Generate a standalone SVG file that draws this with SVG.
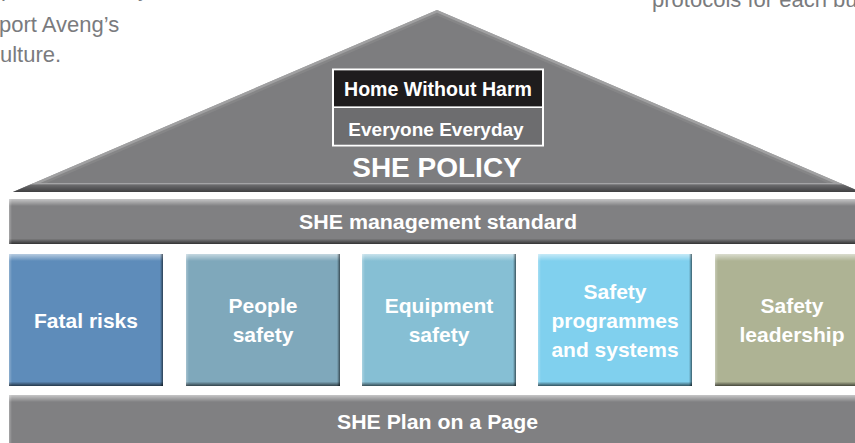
<svg xmlns="http://www.w3.org/2000/svg" width="855" height="443" viewBox="0 0 855 443">
  <defs>
    <style>
      .body { font-family: "Liberation Sans", Arial, sans-serif; font-size: 22px; fill: #7a7b7e; }
      .lbl { font-family: "Liberation Sans", Arial, sans-serif; font-weight: bold; fill: #ffffff; text-anchor: middle; }
      .box { font-size: 21px; }
      .bar { font-size: 20px; }
      .gbar { fill: #808082; }
    </style>
    <linearGradient id="hiTop" x1="0" y1="0" x2="0" y2="1">
      <stop offset="0" stop-color="#ffffff" stop-opacity="0.55"/>
      <stop offset="1" stop-color="#ffffff" stop-opacity="0"/>
    </linearGradient>
    <linearGradient id="shBot" x1="0" y1="0" x2="0" y2="1">
      <stop offset="0" stop-color="#000000" stop-opacity="0.05"/>
      <stop offset="1" stop-color="#000000" stop-opacity="0.6"/>
    </linearGradient>
    <linearGradient id="shRight" x1="0" y1="0" x2="1" y2="0">
      <stop offset="0" stop-color="#000000" stop-opacity="0"/>
      <stop offset="1" stop-color="#000000" stop-opacity="0.55"/>
    </linearGradient>
    <linearGradient id="hiLeft" x1="0" y1="0" x2="1" y2="0">
      <stop offset="0" stop-color="#ffffff" stop-opacity="0.3"/>
      <stop offset="1" stop-color="#ffffff" stop-opacity="0"/>
    </linearGradient>
    <linearGradient id="roofBase" x1="0" y1="0" x2="0" y2="1">
      <stop offset="0" stop-color="#6e6e70"/>
      <stop offset="1" stop-color="#3c3c3e"/>
    </linearGradient>
    <clipPath id="roofClip">
      <polygon points="437,10 13,192 861,192"/>
    </clipPath>
  </defs>

  <g id="page-text">
    <text class="body" x="1" y="-4">p</text>
    <text class="body" x="138" y="-4">y</text>
    <text class="body" x="-1" y="32">port Aveng’s</text>
    <text class="body" x="0" y="62">ulture.</text>
    <text class="body" x="652" y="7" font-size="21">protocols for each bu</text>
  </g>

  <g id="roof">
    <polygon points="437,10 13,192 861,192" fill="#7d7d7f"/>
    <g clip-path="url(#roofClip)">
      <polyline points="13,192 437,10 861,192" fill="none" stroke="#b2b2b4" stroke-width="5" stroke-opacity="0.7"/>
      <polyline points="13,192 437,10 861,192" fill="none" stroke="#9a9a9c" stroke-width="10" stroke-opacity="0.3"/>
      <rect x="0" y="183" width="861" height="1.5" fill="#a4a4a6"/>
      <rect x="0" y="184.5" width="861" height="8" fill="url(#roofBase)"/>
    </g>
    <rect x="333" y="69.5" width="210" height="76" fill="none" stroke="#ffffff" stroke-width="2"/>
    <rect x="334" y="70.5" width="208" height="36" fill="#1e1c1d"/>
    <rect x="334" y="106.5" width="208" height="1.5" fill="#ffffff"/>
    <rect x="334" y="108" width="208" height="36.5" fill="#6d6d6f"/>
    <text class="lbl" x="438" y="96" font-size="19.5" textLength="188" lengthAdjust="spacingAndGlyphs">Home Without Harm</text>
    <text class="lbl" x="436" y="136" font-size="19">Everyone Everyday</text>
    <text class="lbl" x="437" y="177" font-size="28">SHE POLICY</text>
  </g>

  <g id="connectors"></g>

  <g id="management-standard">
    <rect class="gbar" x="9" y="199" width="846" height="45"/>
    <rect x="9" y="199" width="846" height="7" fill="url(#hiTop)"/>
    <rect x="9" y="239" width="846" height="5" fill="url(#shBot)"/>
    <rect x="9" y="199" width="3" height="45" fill="url(#hiLeft)"/>
    <text class="lbl bar" x="438" y="229" textLength="278" lengthAdjust="spacingAndGlyphs">SHE management standard</text>
  </g>

  <g id="fatal-risks">
    <rect x="9" y="254" width="154" height="132" fill="#5e8cba"/>
    <rect x="9" y="254" width="154" height="7" fill="url(#hiTop)"/>
    <rect x="9" y="254" width="3" height="132" fill="url(#hiLeft)"/>
    <rect x="160" y="254" width="3" height="132" fill="url(#shRight)"/>
    <rect x="9" y="382" width="154" height="4" fill="url(#shBot)"/>
    <text class="lbl box" x="86" y="328">Fatal risks</text>
  </g>

  <g id="people-safety">
    <rect x="186" y="254" width="154" height="132" fill="#7fa8bb"/>
    <rect x="186" y="254" width="154" height="7" fill="url(#hiTop)"/>
    <rect x="186" y="254" width="3" height="132" fill="url(#hiLeft)"/>
    <rect x="337" y="254" width="3" height="132" fill="url(#shRight)"/>
    <rect x="186" y="382" width="154" height="4" fill="url(#shBot)"/>
    <text class="lbl box" x="263" y="313">People</text>
    <text class="lbl box" x="263" y="342">safety</text>
  </g>

  <g id="equipment-safety">
    <rect x="362" y="254" width="154" height="132" fill="#86bfd4"/>
    <rect x="362" y="254" width="154" height="7" fill="url(#hiTop)"/>
    <rect x="362" y="254" width="3" height="132" fill="url(#hiLeft)"/>
    <rect x="513" y="254" width="3" height="132" fill="url(#shRight)"/>
    <rect x="362" y="382" width="154" height="4" fill="url(#shBot)"/>
    <text class="lbl box" x="439" y="313">Equipment</text>
    <text class="lbl box" x="439" y="342">safety</text>
  </g>

  <g id="safety-programmes">
    <rect x="538" y="254" width="154" height="132" fill="#80d0ee"/>
    <rect x="538" y="254" width="154" height="7" fill="url(#hiTop)"/>
    <rect x="538" y="254" width="3" height="132" fill="url(#hiLeft)"/>
    <rect x="689" y="254" width="3" height="132" fill="url(#shRight)"/>
    <rect x="538" y="382" width="154" height="4" fill="url(#shBot)"/>
    <text class="lbl box" x="615" y="299">Safety</text>
    <text class="lbl box" x="615" y="328">programmes</text>
    <text class="lbl box" x="615" y="357">and systems</text>
  </g>

  <g id="safety-leadership">
    <rect x="715" y="254" width="154" height="132" fill="#aeb394"/>
    <rect x="715" y="254" width="154" height="7" fill="url(#hiTop)"/>
    <rect x="715" y="254" width="3" height="132" fill="url(#hiLeft)"/>
    <rect x="715" y="382" width="154" height="4" fill="url(#shBot)"/>
    <text class="lbl box" x="792" y="313">Safety</text>
    <text class="lbl box" x="792" y="342">leadership</text>
  </g>

  <g id="plan-on-a-page">
    <rect class="gbar" x="9" y="395" width="846" height="48"/>
    <rect x="9" y="395" width="846" height="7" fill="url(#hiTop)"/>
    <rect x="9" y="395" width="3" height="48" fill="url(#hiLeft)"/>
    <text class="lbl bar" x="437.5" y="429" textLength="201" lengthAdjust="spacingAndGlyphs">SHE Plan on a Page</text>
  </g>
</svg>
